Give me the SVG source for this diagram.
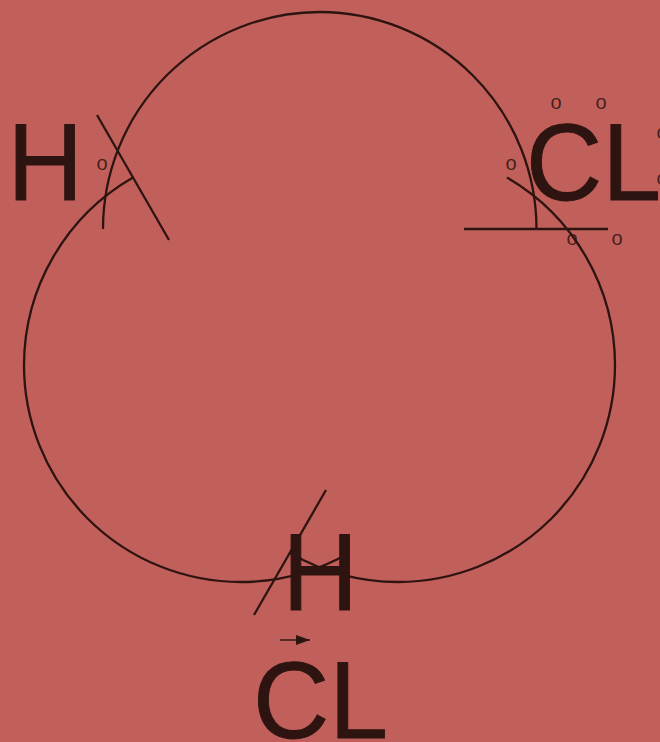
<svg xmlns="http://www.w3.org/2000/svg" width="660" height="742" viewBox="0 0 660 742">
<style>
.c{fill:none;stroke:#2e1411;stroke-width:2.300}
.b{font-family:"Liberation Sans",Arial,sans-serif;font-size:110px;fill:#2e1411;stroke:#2e1411;stroke-width:1}
.o{font-family:"Liberation Sans",Arial,sans-serif;font-size:20px;fill:#2e1411;fill-opacity:0.85;text-anchor:middle}
</style>
<defs><marker id="a" markerUnits="userSpaceOnUse" markerWidth="14" markerHeight="10" refX="14" refY="5" orient="auto"><path d="M0 0L14 5L0 10Z" fill="#2e1411"/></marker></defs>
<rect width="660" height="742" fill="#c1605a"/>
<g id="connectors">
<path class="c" d="M103 229A217 217 0 0 1 320 12A217 217 0 0 1 536.500 229"/>
<path class="c" d="M133 177.500A217 217 0 0 0 24 365A217 217 0 0 0 241 582A217 217 0 0 0 349 553"/>
<path class="c" d="M507 177.500A217 217 0 0 1 615 365A217 217 0 0 1 398 582A217 217 0 0 1 290 553"/>
<path class="c" d="M97 115L169 240"/>
<path class="c" d="M326 490L254 615"/>
<path class="c" d="M464 229L608 229"/>
<path d="M280 640L310 640" fill="none" stroke="#2e1411" stroke-width="1.500" marker-end="url(#a)"/>
</g>
<g id="node-h-left"><text class="b" x="7.500" y="200" textLength="75.500" lengthAdjust="spacingAndGlyphs">H</text><text class="o" x="102" y="170">o</text></g>
<g id="node-cl-right"><text class="b" x="526" y="200" textLength="135" lengthAdjust="spacingAndGlyphs">CL</text>
<text class="o" x="556" y="109">o</text><text class="o" x="601" y="109">o</text><text class="o" x="511" y="170">o</text><text class="o" x="662" y="139">o</text><text class="o" x="662" y="185">o</text><text class="o" x="572" y="245">o</text><text class="o" x="617" y="245">o</text></g>
<g id="node-h-bottom"><text class="b" x="282.500" y="610" textLength="75.500" lengthAdjust="spacingAndGlyphs">H</text></g>
<g id="node-cl-bottom"><text class="b" x="253" y="738" textLength="135" lengthAdjust="spacingAndGlyphs">CL</text></g>
</svg>
